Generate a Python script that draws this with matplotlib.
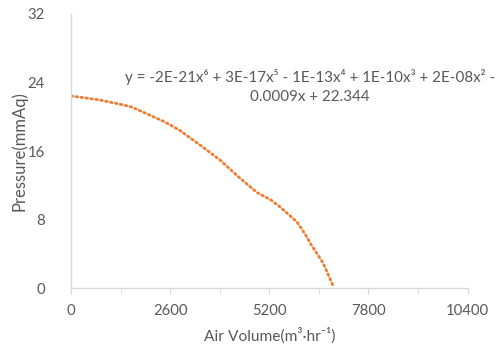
import matplotlib
matplotlib.use('Agg')
from matplotlib import pyplot as plt

plt.rcParams['font.family'] = ['Lato', 'DejaVu Sans']

caudal = [0, 716, 1313, 1591, 2116, 2421, 2626, 2858, 3382, 3906, 4387, 4869, 5252,
          5480, 5918, 6040, 6180, 6267, 6615, 6862]
presion = [22.44, 22.0, 21.45, 21.15, 20.1, 19.49, 19.0, 18.4, 16.72, 14.97, 13.02, 11.2, 10.28,
           9.5, 7.77, 7.0, 6.02, 5.3, 2.92, 0.39]

ticks_x = [0, 2600, 5200, 7800, 10400]
ticks_y = [0, 8, 16, 24, 32]

ecuacion = "y = -2E-21x\u2076 + 3E-17x\u2075 - 1E-13x\u2074 + 1E-10x\u00b3 + 2E-08x\u00b2 -\n0.0009x + 22.344"

gris = '#595959'
linea = '#D9D9D9'

fig = plt.figure(figsize=(4.98, 3.48), dpi=100)
ax = fig.add_axes([0.1426, 0.1715, 0.7964, 0.7883])

ax.plot(caudal, presion, color='#ED7D31', linewidth=2, linestyle=(0, (0.6, 1.2)),
        dash_capstyle='round')

ax.set_xlim(0, 10400)
ax.set_ylim(0, 32)
ax.set_xticks(ticks_x)
ax.set_xticks(range(0, 10401, 1300), minor=True)
ax.set_yticks(ticks_y)

for s in ['top', 'right']:
    ax.spines[s].set_visible(False)
for s in ['left', 'bottom']:
    ax.spines[s].set_color(linea)
    ax.spines[s].set_linewidth(1)

ax.tick_params(axis='x', which='both', direction='out', length=4, color=linea,
               labelsize=10.7, labelcolor=gris, pad=7)
ax.tick_params(axis='y', length=0, labelsize=10.7, labelcolor=gris, pad=19)

ax.set_xlabel("Air Volume(m\u00b3\u00b7hr\u207b\u00b9)", fontsize=11.2, color=gris, labelpad=7)
ax.set_ylabel("Pressure(mmAq)", fontsize=12, color=gris, labelpad=0)

fig.text(0.622, 0.751, ecuacion, ha='center', va='center', fontsize=10.9, color=gris,
         linespacing=1.45)

fig.savefig('out.png', dpi=100)
